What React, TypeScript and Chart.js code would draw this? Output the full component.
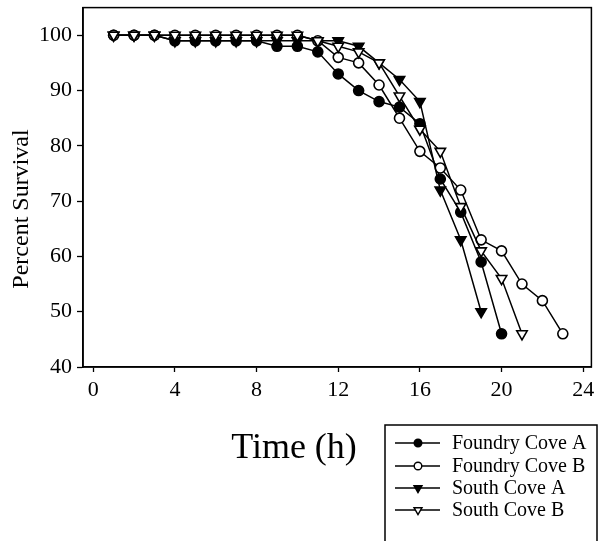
import { useEffect, useRef } from 'react';
import { Chart, registerables } from 'chart.js';

Chart.register(...registerables);

const hours = [1, 2, 3, 4, 5, 6, 7, 8, 9, 10, 11, 12, 13, 14, 15, 16, 17, 18, 19, 20, 21, 22, 23];
const foundryCoveA = [100, 100, 100, 99, 99, 99, 99, 99, 98, 98, 97, 93, 90, 88, 87, 84, 74, 68, 59, 46];
const foundryCoveB = [100, 100, 100, 100, 100, 100, 100, 100, 100, 100, 99, 96, 95, 91, 85, 79, 76, 72, 63, 61, 55, 52, 46];
const southCoveA = [100, 100, 100, 99, 99, 99, 99, 99, 99, 99, 99, 99, 98, 95, 92, 88, 72, 63, 50];
const southCoveB = [100, 100, 100, 100, 100, 100, 100, 100, 100, 100, 99, 98, 97, 95, 89, 83, 79, 69, 61, 56, 46];
const seriesNames = ['Foundry Cove A', 'Foundry Cove B', 'South Cove A', 'South Cove B'];
const xTicks = [0, 4, 8, 12, 16, 20, 24];
const yTicks = [40, 50, 60, 70, 80, 90, 100];
const xTitle = 'Time (h)';
const yTitle = 'Percent Survival';

const SERIF = '"Liberation Serif", "Times New Roman", serif';

const toPoints = (vals: number[]) => vals.map((v, i) => ({ x: hours[i], y: v }));

function drawMarker(ctx: CanvasRenderingContext2D, style: string, rot: number, x: number, y: number, r: number, fill: string) {
  ctx.beginPath();
  if (style === 'circle') {
    ctx.arc(x, y, r, 0, Math.PI * 2);
  } else {
    let rad = (rot * Math.PI) / 180;
    for (let k = 0; k < 3; k++) {
      const px = x + Math.sin(rad) * r;
      const py = y - Math.cos(rad) * r;
      if (k === 0) ctx.moveTo(px, py);
      else ctx.lineTo(px, py);
      rad += (2 * Math.PI) / 3;
    }
    ctx.closePath();
  }
  ctx.fillStyle = fill;
  ctx.fill();
  ctx.stroke();
}

const decor = {
  id: 'decor',
  beforeDatasetsDraw(chart: any) {
    const { ctx, chartArea: a } = chart;
    ctx.save();
    ctx.strokeStyle = '#000';
    ctx.lineWidth = 1.5;
    ctx.strokeRect(a.left, a.top, a.right - a.left, a.bottom - a.top);
    ctx.restore();
  },
  afterDraw(chart: any) {
    const { ctx } = chart;
    ctx.save();
    ctx.fillStyle = '#000';
    // x title
    ctx.font = `36px ${SERIF}`;
    ctx.textAlign = 'center';
    ctx.textBaseline = 'alphabetic';
    ctx.fillText(xTitle, 294, 458);
    // y title
    ctx.save();
    ctx.translate(22, 209);
    ctx.rotate(-Math.PI / 2);
    ctx.font = `24px ${SERIF}`;
    ctx.textBaseline = 'middle';
    ctx.fillText(yTitle, 0, 0);
    ctx.restore();
    // legend
    ctx.strokeStyle = '#000';
    ctx.lineWidth = 1.5;
    ctx.strokeRect(385, 425, 212, 140);
    const rows = [443, 466, 488, 510];
    chart.data.datasets.forEach((ds: any, i: number) => {
      const y = rows[i];
      ctx.lineWidth = 1.5;
      ctx.beginPath();
      ctx.moveTo(395, y);
      ctx.lineTo(440, y);
      ctx.stroke();
      ctx.lineWidth = 1.4;
      drawMarker(ctx, ds.pointStyle, ds.pointRotation || 0, 418, y, ds.pointStyle === 'circle' ? 3.8 : 4.6, ds.pointBackgroundColor);
      ctx.fillStyle = '#000';
      ctx.font = `20px ${SERIF}`;
      ctx.textAlign = 'left';
      ctx.textBaseline = 'middle';
      ctx.fillText(ds.label, 452, y + 1);
    });
    ctx.restore();
  },
};

export default function App() {
  const ref = useRef<HTMLCanvasElement | null>(null);
  useEffect(() => {
    if (!ref.current) return;
    const mk = (label: string, vals: number[], style: string, filled: boolean, order: number) => ({
      label,
      data: toPoints(vals),
      borderColor: '#000',
      borderWidth: 1.5,
      pointStyle: style,
      pointRotation: style === 'triangle' ? 180 : 0,
      pointRadius: style === 'circle' ? 5 : 6,
      pointBorderWidth: 1.6,
      pointBorderColor: '#000',
      pointBackgroundColor: filled ? '#000' : '#fff',
      backgroundColor: filled ? '#000' : '#fff',
      tension: 0,
      fill: false,
      order,
    });
    const chart = new Chart(ref.current, {
      type: 'line',
      data: {
        datasets: [
          mk(seriesNames[0], foundryCoveA, 'circle', true, 4),
          mk(seriesNames[1], foundryCoveB, 'circle', false, 3),
          mk(seriesNames[2], southCoveA, 'triangle', true, 2),
          mk(seriesNames[3], southCoveB, 'triangle', false, 1),
        ] as any,
      },
      options: {
        animation: false,
        responsive: false,
        layout: { padding: { left: 0, top: 7, right: 2, bottom: 134 } },
        plugins: { legend: { display: false }, tooltip: { enabled: false }, title: { display: false } },
        scales: {
          x: {
            type: 'linear',
            min: -0.5,
            max: 24.4,
            afterBuildTicks: (s: any) => {
              s.ticks = xTicks.map((v) => ({ value: v }));
            },
            afterFit: (s: any) => {
              s.height = 40;
              s.paddingLeft = 0;
              s.paddingRight = 0;
            },
            ticks: { font: { family: SERIF, size: 22 }, color: '#000', padding: 5, maxRotation: 0, autoSkip: false },
            grid: { drawOnChartArea: false, drawTicks: true, tickLength: 5, color: '#000', tickWidth: 1.3 },
            border: { display: true, color: '#000', width: 1.6 },
          },
          y: {
            type: 'linear',
            min: 40,
            max: 105,
            afterBuildTicks: (s: any) => {
              s.ticks = yTicks.map((v) => ({ value: v }));
            },
            afterFit: (s: any) => {
              s.width = 83;
              s.paddingTop = 0;
              s.paddingBottom = 0;
            },
            ticks: { font: { family: SERIF, size: 22 }, color: '#000', padding: 5, autoSkip: false },
            grid: { drawOnChartArea: false, drawTicks: true, tickLength: 6, color: '#000', tickWidth: 1.3 },
            border: { display: true, color: '#000', width: 1.6 },
          },
        },
      },
      plugins: [decor],
    });
    return () => chart.destroy();
  }, []);
  return (
    <div style={{ position: 'absolute', left: 0, top: 0, width: 599, height: 541, background: '#fff' }}>
      <canvas ref={ref} width={599} height={541} style={{ display: 'block' }} />
    </div>
  );
}
